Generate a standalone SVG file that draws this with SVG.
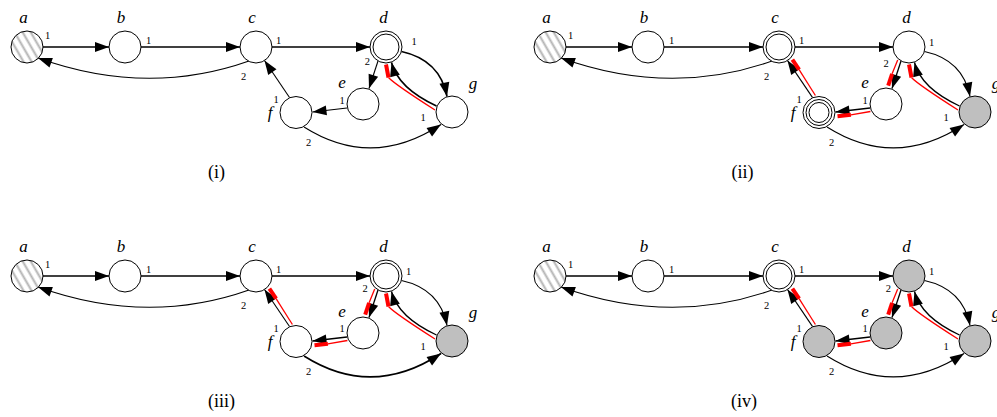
<svg xmlns="http://www.w3.org/2000/svg" width="997" height="417" viewBox="0 0 997 417">
<defs>
<marker id="ah" markerUnits="userSpaceOnUse" markerWidth="16" markerHeight="12" viewBox="-15 -6 16 12" refX="0" refY="0" orient="auto"><path d="M0,0 L-14,-5 L-14,5 Z" fill="#000"/></marker>
<pattern id="hatch" patternUnits="userSpaceOnUse" width="7" height="7" patternTransform="rotate(-30)"><rect width="7" height="7" fill="#fff"/><line x1="3.5" y1="-1" x2="3.5" y2="8" stroke="#b3b3b3" stroke-width="2"/></pattern>
</defs>
<style>
.n{fill:#fff;stroke:#000;stroke-width:1}
.gr{fill:#bfbfbf}
.h{fill:url(#hatch)}
.e{fill:none;stroke:#000;stroke-width:1.1;marker-end:url(#ah)}
.eb{stroke-width:1.6}
.em{stroke-width:1.3}
.r{fill:none;stroke:#f00;stroke-width:1.3}
.rt{fill:none;stroke:#f00;stroke-width:4}
.lb{font-family:"Liberation Serif",serif;font-style:italic;font-size:17px;text-anchor:middle}
.p{font-family:"Liberation Serif",serif;font-size:10.5px;text-anchor:middle}
.cap{font-family:"Liberation Serif",serif;font-size:18px}
</style>

<!-- Panel (i) -->
<g id="panel-i">
<g id="i-connectors">
<path class="e eb" d="M43,47 L109,47"/>
<path class="e eb" d="M141,47 L240,47"/>
<path class="e eb" d="M272,47 L370,47"/>
<path class="e" d="M249,61 Q147,97 38,58"/>
<path class="e eb" d="M401.5,51.5 Q440,60 447,96.5"/>
<path class="e" d="M378,61 L369,88.5"/>
<path class="e eb" d="M436.5,106 Q398,88 391.5,62.5"/>
<path class="e" d="M347,108 L312.5,112"/>
<path class="e" d="M289.5,97.5 L264.5,60.5"/>
<path class="e" d="M304,127 Q372,170 441,124.5"/>
<path class="r" d="M435,110 Q394.6,84.2 388.5,77.5"/>
<path class="rt" d="M388.5,77.5 L386,64.5"/>
</g>
<g id="i-a"><circle class="n h" cx="27" cy="47" r="16"/><text class="lb" x="23.5" y="23">a</text></g>
<g id="i-b"><circle class="n" cx="125" cy="47" r="16"/><text class="lb" x="121" y="23">b</text></g>
<g id="i-c"><circle class="n" cx="256" cy="47" r="16"/><text class="lb" x="252" y="23">c</text></g>
<g id="i-d"><circle class="n" cx="386" cy="47" r="16"/><circle class="n" cx="386" cy="47" r="13"/><text class="lb" x="383.5" y="23">d</text></g>
<g id="i-e"><circle class="n" cx="363" cy="104" r="16"/><text class="lb" x="342" y="88">e</text></g>
<g id="i-f"><circle class="n" cx="296" cy="112.5" r="16"/><text class="lb" x="270" y="118">f</text></g>
<g id="i-g"><circle class="n" cx="452" cy="112" r="16"/><text class="lb" x="473" y="89">g</text></g>
<g id="i-ports">
<text class="p" x="47.5" y="38.5">1</text>
<text class="p" x="148.5" y="44">1</text>
<text class="p" x="243.5" y="80">2</text>
<text class="p" x="278.5" y="44">1</text>
<text class="p" x="414" y="44.5">1</text>
<text class="p" x="367.3" y="65.3">2</text>
<text class="p" x="423" y="121">1</text>
<text class="p" x="342" y="103.5">1</text>
<text class="p" x="276" y="103">1</text>
<text class="p" x="308.5" y="146">2</text>
</g>
<text class="cap" x="208" y="177.5">(i)</text>
</g>

<!-- Panel (ii) -->
<g id="panel-ii" transform="translate(523,0)">
<g id="ii-connectors">
<path class="e eb" d="M43,47 L109,47"/>
<path class="e eb" d="M141,47 L240,47"/>
<path class="e eb" d="M272,47 L370,47"/>
<path class="e" d="M249,61 Q147,97 38,58"/>
<path class="e" d="M401.5,51.5 Q440,60 447,96.5"/>
<path class="e em" d="M378,61 L369,88.5"/>
<path class="e em" d="M436.5,106 Q398,88 391.5,62.5"/>
<path class="e em" d="M347,108 L312.5,112"/>
<path class="e em" d="M289.5,97.5 L264.5,60.5"/>
<path class="e" d="M304,127 Q372,170 441,124.5"/>
<path class="r" d="M435,110 Q394.6,84.2 388.5,77.5"/>
<path class="rt" d="M388.5,77.5 L386,64.5"/>
<path class="r" d="M374.7,59.9 L369.1,73.8"/>
<path class="rt" d="M369.1,73.8 L365.2,85.7"/>
<path class="r" d="M347.4,111.5 L327.9,114.8"/>
<path class="rt" d="M327.9,114.8 L314.5,116.3"/>
<path class="r" d="M292.4,95.5 L276.1,69.6"/>
<path class="rt" d="M276.1,69.6 L269.4,59.6"/>
</g>
<g id="ii-a"><circle class="n h" cx="27" cy="47" r="16"/><text class="lb" x="23.5" y="23">a</text></g>
<g id="ii-b"><circle class="n" cx="125" cy="47" r="16"/><text class="lb" x="121" y="23">b</text></g>
<g id="ii-c"><circle class="n" cx="256" cy="47" r="16"/><circle class="n" cx="256" cy="47" r="13"/><text class="lb" x="252" y="23">c</text></g>
<g id="ii-d"><circle class="n" cx="386" cy="47" r="16"/><text class="lb" x="383.5" y="23">d</text></g>
<g id="ii-e"><circle class="n" cx="363" cy="104" r="16"/><text class="lb" x="342" y="88">e</text></g>
<g id="ii-f"><circle class="n" cx="296" cy="112.5" r="16"/><circle class="n" cx="296" cy="112.5" r="13"/><circle class="n" cx="296" cy="112.5" r="10"/><text class="lb" x="270" y="118">f</text></g>
<g id="ii-g"><circle class="n gr" cx="452" cy="112" r="16"/><text class="lb" x="473" y="89">g</text></g>
<g id="ii-ports">
<text class="p" x="47.5" y="38.5">1</text>
<text class="p" x="148.5" y="44">1</text>
<text class="p" x="243.5" y="80">2</text>
<text class="p" x="278.5" y="44">1</text>
<text class="p" x="408.7" y="45.5">1</text>
<text class="p" x="363" y="66.7">2</text>
<text class="p" x="423" y="121">1</text>
<text class="p" x="342" y="103.5">1</text>
<text class="p" x="276" y="103">1</text>
<text class="p" x="308.5" y="146">2</text>
</g>
<text class="cap" x="208.5" y="177.5">(ii)</text>
</g>

<!-- Panel (iii) -->
<g id="panel-iii" transform="translate(0,229)">
<g id="iii-connectors">
<path class="e eb" d="M43,47 L109,47"/>
<path class="e eb" d="M141,47 L240,47"/>
<path class="e eb" d="M272,47 L370,47"/>
<path class="e" d="M249,61 Q147,97 38,58"/>
<path class="e" d="M401.5,51.5 Q440,60 447,96.5"/>
<path class="e em" d="M378,61 L369,88.5"/>
<path class="e em" d="M436.5,106 Q398,88 391.5,62.5"/>
<path class="e em" d="M347,108 L312.5,112"/>
<path class="e" d="M289.5,97.5 L264.5,60.5"/>
<path class="e eb" d="M304,127 Q372,170 441,124.5"/>
<path class="r" d="M435,110 Q394.6,84.2 388.5,77.5"/>
<path class="rt" d="M388.5,77.5 L386,64.5"/>
<path class="r" d="M374.7,59.9 L369.1,73.8"/>
<path class="rt" d="M369.1,73.8 L365.2,85.7"/>
<path class="r" d="M347.4,111.5 L327.9,114.8"/>
<path class="rt" d="M327.9,114.8 L314.5,116.3"/>
<path class="r" d="M292.4,95.5 L276.1,69.6"/>
<path class="rt" d="M276.1,69.6 L269.4,59.6"/>
</g>
<g id="iii-a"><circle class="n h" cx="27" cy="47" r="16"/><text class="lb" x="23.5" y="23">a</text></g>
<g id="iii-b"><circle class="n" cx="125" cy="47" r="16"/><text class="lb" x="121" y="23">b</text></g>
<g id="iii-c"><circle class="n" cx="256" cy="47" r="16"/><text class="lb" x="252" y="23">c</text></g>
<g id="iii-d"><circle class="n" cx="386" cy="47" r="16"/><circle class="n" cx="386" cy="47" r="13"/><text class="lb" x="383.5" y="23">d</text></g>
<g id="iii-e"><circle class="n" cx="363" cy="104" r="16"/><text class="lb" x="342" y="88">e</text></g>
<g id="iii-f"><circle class="n" cx="296" cy="112.5" r="16"/><text class="lb" x="270" y="118">f</text></g>
<g id="iii-g"><circle class="n gr" cx="452" cy="112" r="16"/><text class="lb" x="473" y="89">g</text></g>
<g id="iii-ports">
<text class="p" x="47.5" y="38.5">1</text>
<text class="p" x="148.5" y="44">1</text>
<text class="p" x="243.5" y="80">2</text>
<text class="p" x="278.5" y="44">1</text>
<text class="p" x="408.5" y="46">1</text>
<text class="p" x="365" y="62.7">2</text>
<text class="p" x="423" y="121">1</text>
<text class="p" x="342" y="103">1</text>
<text class="p" x="276" y="103">1</text>
<text class="p" x="308.5" y="145.5">2</text>
</g>
<text class="cap" x="208" y="178">(iii)</text>
</g>

<!-- Panel (iv) -->
<g id="panel-iv" transform="translate(523,229)">
<g id="iv-connectors">
<path class="e eb" d="M43,47 L109,47"/>
<path class="e eb" d="M141,47 L240,47"/>
<path class="e eb" d="M272,47 L370,47"/>
<path class="e" d="M249,61 Q147,97 38,58"/>
<path class="e" d="M401.5,51.5 Q440,60 447,96.5"/>
<path class="e em" d="M378,61 L369,88.5"/>
<path class="e em" d="M436.5,106 Q398,88 391.5,62.5"/>
<path class="e em" d="M347,108 L312.5,112"/>
<path class="e em" d="M289.5,97.5 L264.5,60.5"/>
<path class="e" d="M304,127 Q372,170 441,124.5"/>
<path class="r" d="M435,110 Q394.6,84.2 388.5,77.5"/>
<path class="rt" d="M388.5,77.5 L386,64.5"/>
<path class="r" d="M374.7,59.9 L369.1,73.8"/>
<path class="rt" d="M369.1,73.8 L365.2,85.7"/>
<path class="r" d="M347.4,111.5 L327.9,114.8"/>
<path class="rt" d="M327.9,114.8 L314.5,116.3"/>
<path class="r" d="M292.4,95.5 L276.1,69.6"/>
<path class="rt" d="M276.1,69.6 L269.4,59.6"/>
</g>
<g id="iv-a"><circle class="n h" cx="27" cy="47" r="16"/><text class="lb" x="23.5" y="23">a</text></g>
<g id="iv-b"><circle class="n" cx="125" cy="47" r="16"/><text class="lb" x="121" y="23">b</text></g>
<g id="iv-c"><circle class="n" cx="256" cy="47" r="16"/><circle class="n" cx="256" cy="47" r="13"/><text class="lb" x="252" y="23">c</text></g>
<g id="iv-d"><circle class="n gr" cx="386" cy="47" r="16"/><text class="lb" x="383.5" y="23">d</text></g>
<g id="iv-e"><circle class="n gr" cx="363" cy="104" r="16"/><text class="lb" x="342" y="88">e</text></g>
<g id="iv-f"><circle class="n gr" cx="296" cy="112.5" r="16"/><text class="lb" x="270" y="118">f</text></g>
<g id="iv-g"><circle class="n gr" cx="452" cy="112" r="16"/><text class="lb" x="473" y="89">g</text></g>
<g id="iv-ports">
<text class="p" x="47.5" y="38.5">1</text>
<text class="p" x="148.5" y="44">1</text>
<text class="p" x="243.5" y="80">2</text>
<text class="p" x="278.5" y="44">1</text>
<text class="p" x="408.7" y="46">1</text>
<text class="p" x="365.3" y="62.7">2</text>
<text class="p" x="423" y="121">1</text>
<text class="p" x="342" y="103">1</text>
<text class="p" x="276" y="103">1</text>
<text class="p" x="308.5" y="145.5">2</text>
</g>
<text class="cap" x="208" y="178">(iv)</text>
</g>
</svg>
